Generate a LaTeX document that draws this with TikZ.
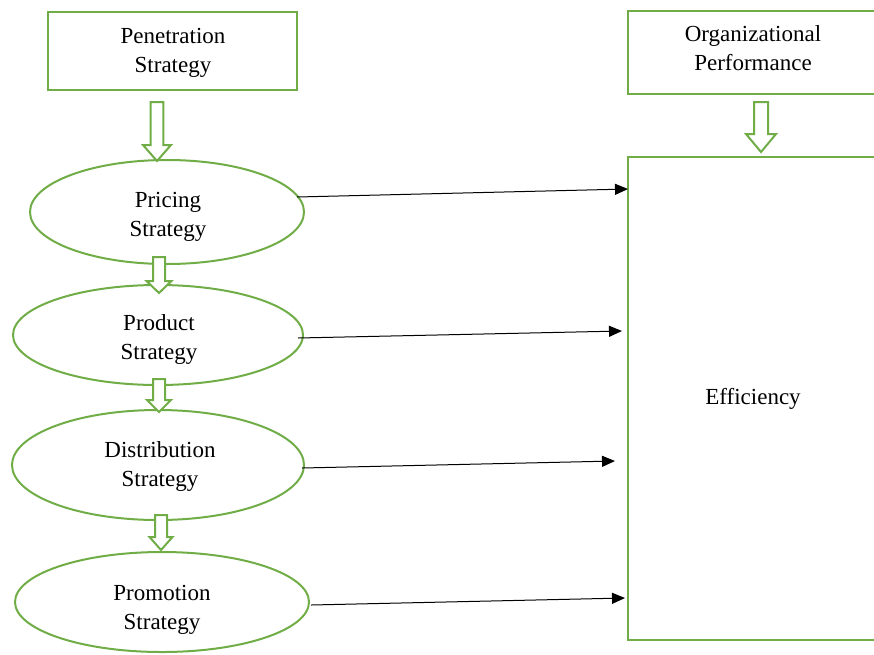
\documentclass[tikz,border=0pt]{standalone}
\usepackage{fontspec}
\setmainfont{Liberation Serif}
\usetikzlibrary{arrows.meta}
\definecolor{grn}{RGB}{112,173,71}
\tikzset{
  gbox/.style={draw=grn, line width=2pt},
  gell/.style={draw=grn, line width=2pt},
  lbl/.style={align=center, font=\fontsize{23}{29}\selectfont, inner sep=0pt},
  link/.style={line width=1pt, -{Triangle[length=13pt,width=11pt]}},
  hollow/.style={draw=grn, line width=2pt, fill=white, line join=miter}
}
\newcommand\harrow[6]{% xc, ytop, yhead, ytip, shaft half, head half
  \draw[hollow] (#1-#5,#2) -- (#1+#5,#2) -- (#1+#5,#3) -- (#1+#6,#3) -- (#1,#4) -- (#1-#6,#3) -- (#1-#5,#3) -- cycle;}
\begin{document}
\begin{tikzpicture}[x=1pt,y=-1pt]
\useasboundingbox (0,0) rectangle (874,654);
\clip (0,0) rectangle (874,654);
% boxes
\draw[gbox] (48,12) rectangle (297,90);
\node[lbl] (pen) at (173,52.5) {Penetration\\Strategy};
\draw[gbox] (628,11) rectangle (890,94);
\node[lbl] (org) at (753,48) {Organizational\\Performance};
\draw[gbox] (628,157) rectangle (890,640);
\coordinate (eff) at (628,157);
\node[lbl] (efft) at (753,399) {Efficiency};
% ellipses
\draw[gell] (167,212) ellipse [x radius=137, y radius=52];
\node[lbl] (pri) at (168,216.5) {Pricing\\Strategy};
\draw[gell] (158,335) ellipse [x radius=145, y radius=50];
\node[lbl] (pro) at (159,339) {Product\\Strategy};
\draw[gell] (158,465) ellipse [x radius=146, y radius=55];
\node[lbl] (dis) at (160,466) {Distribution\\Strategy};
\draw[gell] (162,602) ellipse [x radius=147, y radius=50];
\node[lbl] (prm) at (162,609.5) {Promotion\\Strategy};
% hollow arrows
\harrow{157}{102}{145}{161}{6.3}{14}
\harrow{159}{257}{281}{293}{6}{12.5}
\harrow{159}{379}{400}{412}{6}{12}
\harrow{161}{515}{537}{550}{6}{11.5}
\harrow{761}{102}{134}{152}{7}{15}
% links
\coordinate (a1) at (297,197); \coordinate (b1) at (628,189);
\coordinate (a2) at (298,338); \coordinate (b2) at (622,331);
\coordinate (a3) at (302,468); \coordinate (b3) at (615,461);
\coordinate (a4) at (311,605); \coordinate (b4) at (625,598);
\draw[link] (a1) -- (b1);
\draw[link] (a2) -- (b2);
\draw[link] (a3) -- (b3);
\draw[link] (a4) -- (b4);
\end{tikzpicture}
\end{document}
